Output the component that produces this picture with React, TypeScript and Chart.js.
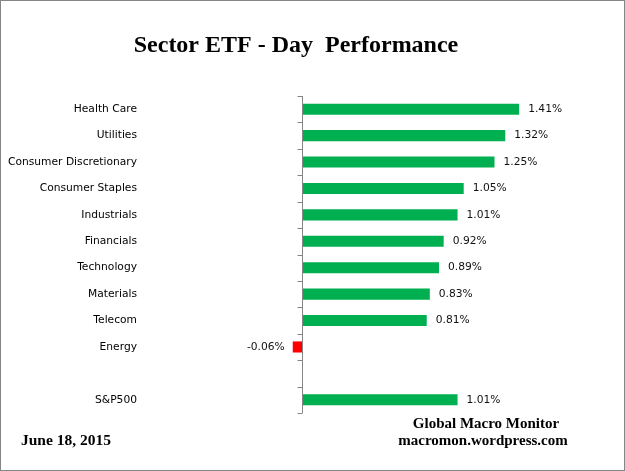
import React, { useEffect, useRef } from "react";
import { Chart, registerables } from "chart.js";

Chart.register(...registerables);

const categories = [
  "Health Care",
  "Utilities",
  "Consumer Discretionary",
  "Consumer Staples",
  "Industrials",
  "Financials",
  "Technology",
  "Materials",
  "Telecom",
  "Energy",
  "",
  "S&P500",
];
const changes: (number | null)[] = [1.41, 1.32, 1.25, 1.05, 1.01, 0.92, 0.89, 0.83, 0.81, -0.06, null, 1.01];

const titleText = "Sector ETF - Day  Performance";
const dateText = "June 18, 2015";
const creditLines = ["Global Macro Monitor", "macromon.wordpress.com"];

const GREEN = "#00B050";
const RED = "#FF0000";
const AXIS = "#868686";
const LABEL_FONT = "10.7px 'DejaVu Sans'";

// axis line at zero, value labels, texts and the outer frame
const decorations = {
  id: "decorations",
  afterDatasetsDraw(chart: any) {
    const { ctx, chartArea, scales } = chart;
    const x = scales.x;
    const y = scales.y;
    const x0 = Math.round(x.getPixelForValue(0)) + 0.5;

    ctx.save();
    ctx.strokeStyle = AXIS;
    ctx.lineWidth = 1;
    ctx.beginPath();
    ctx.moveTo(x0, chartArea.top);
    ctx.lineTo(x0, chartArea.bottom);
    for (let i = 0; i <= categories.length; i++) {
      const ty = Math.round(y.getPixelForValue(i - 0.5)) + 0.5;
      ctx.moveTo(x0 - 5, ty);
      ctx.lineTo(x0, ty);
    }
    ctx.stroke();

    // value labels
    ctx.font = LABEL_FONT;
    ctx.fillStyle = "#111";
    ctx.textBaseline = "middle";
    const meta = chart.getDatasetMeta(0);
    meta.data.forEach((bar: any, i: number) => {
      const v = changes[i];
      if (v === null) return;
      const text = v.toFixed(2) + "%";
      if (v >= 0) {
        ctx.textAlign = "left";
        ctx.fillText(text, bar.x + 9, bar.y);
      } else {
        ctx.textAlign = "right";
        ctx.fillText(text, bar.x - 8, bar.y);
      }
    });

    // title
    ctx.fillStyle = "#000";
    ctx.textBaseline = "alphabetic";
    ctx.textAlign = "center";
    ctx.font = "bold 24px 'Liberation Serif'";
    ctx.fillText(titleText, 296, 52);

    // footer
    ctx.font = "bold 15px 'Liberation Serif'";
    ctx.fillText(creditLines[0], 486, 428);
    ctx.fillText(creditLines[1], 483, 445);
    ctx.textAlign = "left";
    ctx.font = "bold 15.5px 'Liberation Serif'";
    ctx.fillText(dateText, 21, 445);

    // frame
    ctx.strokeStyle = AXIS;
    ctx.strokeRect(0.5, 0.5, chart.width - 1, chart.height - 1);
    ctx.restore();
  },
};

const App: React.FC = () => {
  const canvasRef = useRef<HTMLCanvasElement | null>(null);
  const chartRef = useRef<Chart | null>(null);

  useEffect(() => {
    document.body.style.margin = "0";
    if (!canvasRef.current) return;
    if (chartRef.current) chartRef.current.destroy();

    chartRef.current = new Chart(canvasRef.current, {
      type: "bar",
      data: {
        labels: categories,
        datasets: [
          {
            data: changes,
            backgroundColor: changes.map((v) => ((v ?? 0) < 0 ? RED : GREEN)),
            barPercentage: 0.42,
            categoryPercentage: 1,
          },
        ],
      },
      options: {
        indexAxis: "y",
        responsive: false,
        animation: false,
        layout: { padding: { top: 96, bottom: 58, left: 0, right: 15 } },
        plugins: {
          legend: { display: false },
          title: { display: false },
          tooltip: { enabled: true },
        },
        scales: {
          x: {
            display: false,
            min: -1,
            max: 2,
          },
          y: {
            grid: { display: false, drawTicks: false },
            border: { display: false },
            ticks: {
              color: "#000",
              padding: 11,
              font: { family: "'DejaVu Sans'", size: 10.7 },
            },
            afterFit: (scale: any) => {
              scale.width = 148;
            },
          },
        },
      },
      plugins: [decorations],
    });

    return () => {
      if (chartRef.current) {
        chartRef.current.destroy();
        chartRef.current = null;
      }
    };
  }, []);

  return (
    <div style={{ width: 625, height: 471 }}>
      <canvas ref={canvasRef} width={625} height={471}></canvas>
    </div>
  );
};

export default App;
